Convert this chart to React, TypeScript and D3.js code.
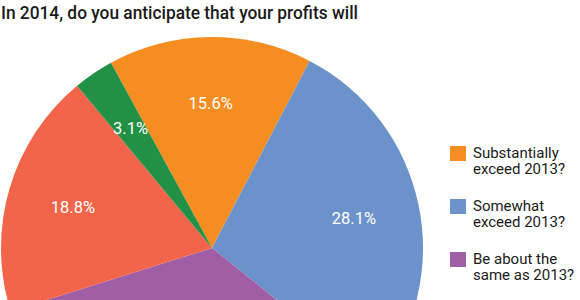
import React from "react";
import * as d3 from "d3";

const title = "In 2014, do you anticipate that your profits will";
const categories = [
  "Substantially exceed 2013?",
  "Somewhat exceed 2013?",
  "Be about the same as 2013?",
  "Be somewhat less than 2013?",
  "Be substantially less than 2013?",
];
const values = [15.6, 28.1, 34.4, 18.8, 3.1];
const colors = ["#F68D20", "#6C92CB", "#A05EA6", "#F2654A", "#229145"];
const legendLines = [
  ["Substantially", "exceed 2013?"],
  ["Somewhat", "exceed 2013?"],
  ["Be about the", "same as 2013?"],
];

const W = 580;
const H = 300;
const cx = 212;
const cy = 248;
const R = 211;
const labelR = 145;
const font = "Roboto, 'Noto Sans', sans-serif";

export default function App() {
  const startDeg = -28.6;
  const pie = d3
    .pie<number>()
    .sort(null)
    .value((d) => d)
    .startAngle((startDeg * Math.PI) / 180)
    .endAngle(((startDeg + 360) * Math.PI) / 180);
  const arcs = pie(values);
  const arc = d3.arc<d3.PieArcDatum<number>>().innerRadius(0).outerRadius(R);
  const labelArc = d3
    .arc<d3.PieArcDatum<number>>()
    .innerRadius(labelR)
    .outerRadius(labelR);
  const fmt = (v: number) => `${v.toFixed(1)}%`;

  return (
    <svg
      width={W}
      height={H}
      style={{ position: "absolute", left: 0, top: 0, background: "#fff" }}
    >
      <g transform={`translate(${cx},${cy})`}>
        {arcs.map((a, i) => (
          <path key={categories[i]} d={arc(a) || ""} fill={colors[i]} />
        ))}
        {arcs.map((a, i) => {
          const [x, y] = labelArc.centroid(a);
          if (cy + y > H - 10) return null; // label falls below the visible area
          return (
            <text
              key={"l" + i}
              x={x}
              y={y}
              dy="0.35em"
              textAnchor="middle"
              fill="#fff"
              fontFamily={font}
              fontSize={16.5}
            >
              {fmt(values[i])}
            </text>
          );
        })}
      </g>
      <text
        x={1}
        y={19}
        fontFamily={font}
        fontSize={18}
        fontWeight={500}
        fill="#1a1a1a"
        textLength={357}
        lengthAdjust="spacingAndGlyphs"
      >
        {title}
      </text>
      {legendLines.map((lines, i) => (
        <g key={"lg" + i} transform={`translate(450,${146 + i * 53})`}>
          <rect width={16} height={15} fill={colors[i]} />
          {lines.map((ln, j) => (
            <text
              key={j}
              x={23}
              y={11.5 + j * 16.5}
              fontFamily={font}
              fontSize={15}
              fill="#1a1a1a"
            >
              {ln}
            </text>
          ))}
        </g>
      ))}
    </svg>
  );
}
